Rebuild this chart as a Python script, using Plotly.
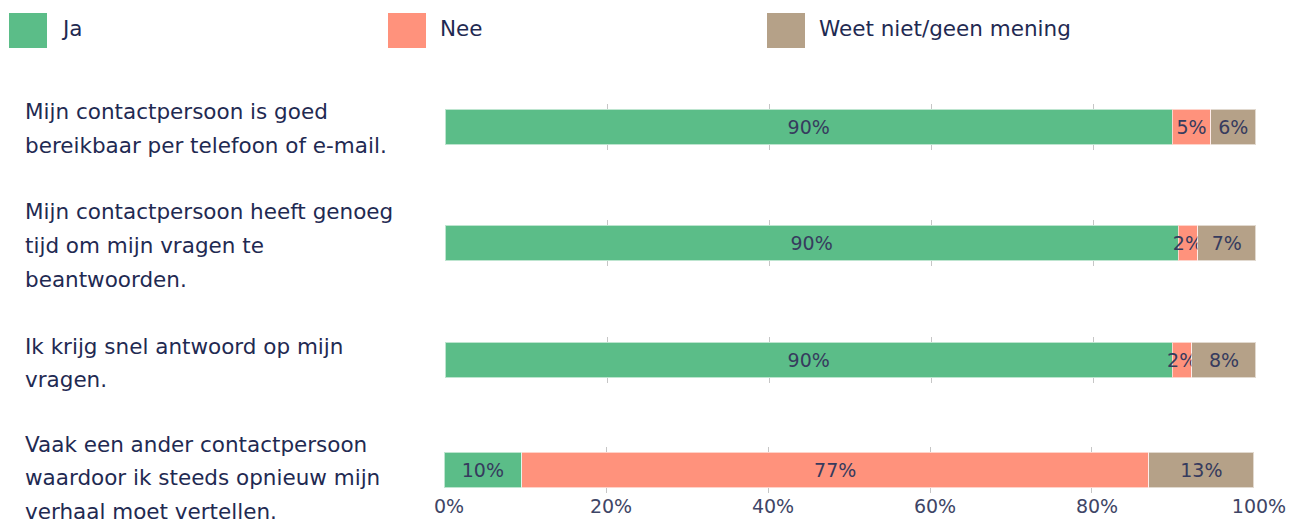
import plotly.graph_objects as go
from plotly.subplots import make_subplots

# Survey statements (one bar per statement), split into display lines
statements = [
    ["Mijn contactpersoon is goed", "bereikbaar per telefoon of e-mail."],
    ["Mijn contactpersoon heeft genoeg", "tijd om mijn vragen te", "beantwoorden."],
    ["Ik krijg snel antwoord op mijn", "vragen."],
    ["Vaak een ander contactpersoon", "waardoor ik steeds opnieuw mijn", "verhaal moet vertellen."],
]

answers = ["Ja", "Nee", "Weet niet/geen mening"]

# Share of respondents per answer (percent), one value per statement
ja = [89.7, 90.4, 89.7, 9.6]
nee = [4.7, 2.4, 2.4, 77.4]
weet_niet = [5.6, 7.2, 7.9, 13.0]

colors = ["#5BBD88", "#FF927C", "#B5A188"]
tick_vals = [0, 20, 40, 60, 80, 100]
tick_text = ["0%", "20%", "40%", "60%", "80%", "100%"]

W, H = 1289, 519
FONT = "DejaVu Sans"
TEXT_COLOR = "#1F2A52"
BAR_TEXT_COLOR = "#363B5E"
TICK_COLOR = "#3E4566"
GRID_COLOR = "#C6C6C6"
LABEL_SIZE = 21.5

# pixel layout of each row (plot area top/bottom, axis left/right)
row_px = [(104, 150), (220, 266), (337, 383), (447, 493)]
col_px = [(445, 1256), (445, 1256), (445, 1256), (444, 1254)]
label_first_line_px = [112, 212, 346, 444]
LINE_STEP = 33.5

n = len(statements)
fig = make_subplots(rows=n, cols=1)

series = [ja, nee, weet_niet]
for r in range(n):
    for s, name in enumerate(answers):
        v = series[s][r]
        fig.add_trace(
            go.Bar(
                x=[v], y=[0], orientation="h", name=name,
                marker=dict(color=colors[s], line=dict(color="rgba(255,255,255,0.6)", width=1)),
                text=[v], texttemplate="%{x:.0f}%",
                textposition="inside", insidetextanchor="middle",
                textangle=0, constraintext="none", cliponaxis=False,
                insidetextfont=dict(family=FONT, size=19, color=BAR_TEXT_COLOR),
                showlegend=False, hoverinfo="skip",
            ),
            row=r + 1, col=1,
        )

layout_axes = {}
for r in range(n):
    suffix = "" if r == 0 else str(r + 1)
    top, bot = row_px[r]
    x0, x1 = col_px[r]
    layout_axes["xaxis" + suffix] = dict(
        domain=[x0 / W, x1 / W], range=[0, 100.001], tickvals=tick_vals, ticktext=tick_text,
        showticklabels=(r == n - 1), showgrid=True, gridcolor=GRID_COLOR, gridwidth=1,
        zeroline=False, showline=False, ticks="", fixedrange=True, automargin=False,
        tickfont=dict(family=FONT, size=19, color=TICK_COLOR), ticklabelshift=5,
    )
    layout_axes["yaxis" + suffix] = dict(
        domain=[1 - bot / H, 1 - top / H], range=[-0.5, 0.5], visible=False,
        fixedrange=True, automargin=False,
    )

annotations = []
shapes = []
# statement labels on the left
for r, lines in enumerate(statements):
    for k, line in enumerate(lines):
        y_px = label_first_line_px[r] + k * LINE_STEP
        annotations.append(dict(
            text=line, xref="paper", yref="paper", x=23 / W, y=1 - y_px / H,
            xanchor="left", yanchor="middle", showarrow=False, align="left",
            font=dict(family=FONT, size=LABEL_SIZE, color=TEXT_COLOR),
        ))

# legend: coloured squares with their answer text
legend_x = [9, 388, 767]
for i, name in enumerate(answers):
    x0 = legend_x[i]
    shapes.append(dict(
        type="rect", xref="paper", yref="paper",
        x0=x0 / W, x1=(x0 + 38) / W, y0=1 - 48 / H, y1=1 - 13 / H,
        fillcolor=colors[i], line=dict(width=0),
    ))
    annotations.append(dict(
        text=name, xref="paper", yref="paper", x=(x0 + 50) / W, y=1 - 29 / H,
        xanchor="left", yanchor="middle", showarrow=False,
        font=dict(family=FONT, size=LABEL_SIZE, color=TEXT_COLOR),
    ))

fig.update_layout(
    width=W, height=H, autosize=False, margin=dict(l=0, r=0, t=0, b=0, autoexpand=False),
    paper_bgcolor="white", plot_bgcolor="white",
    barmode="stack", bargap=0.22, showlegend=False,
    annotations=annotations, shapes=shapes,
    font=dict(family=FONT, color=TEXT_COLOR),
    **layout_axes,
)

# page without body margin or scrollbars so the figure fills the window
page_css = (
    "document.body.style.margin='0';"
    "document.body.style.padding='0';"
    "document.body.style.overflow='hidden';"
    "document.documentElement.style.overflow='hidden';"
)
fig.write_html(
    "out.html",
    config={"displayModeBar": False, "responsive": False},
    post_script=page_css,
)
